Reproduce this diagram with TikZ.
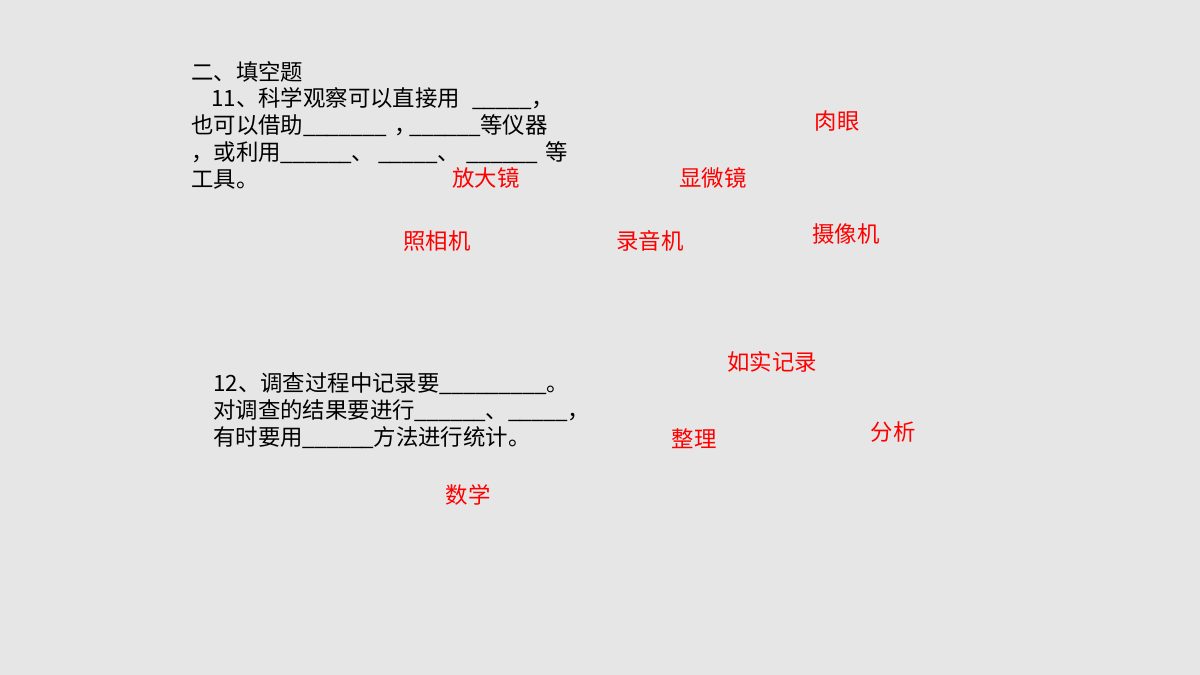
\documentclass[tikz,border=0pt]{standalone}
\usepackage{fontspec}
\setmainfont{Noto Sans CJK SC}
\definecolor{bgc}{HTML}{E6E6E6}
\definecolor{ans}{HTML}{FF0000}
\newcommand\us{\_\kern-0.7pt}
\tikzset{
  q/.style={anchor=west, inner sep=0pt, font=\fontsize{22.4}{26}\selectfont, text=black},
  a/.style={inner sep=0pt, font=\fontsize{22.4}{26}\selectfont, text=ans},
}
\begin{document}
\begin{tikzpicture}[x=1pt,y=-1pt]
\fill[bgc] (0,0) rectangle (1200,675);
\useasboundingbox (0,0) rectangle (1200,675);
% question 11
\node[q] (l1) at (191,72) {二、填空题};
\node[q] (l2) at (211,99) {11、科学观察可以直接用\hspace{12pt}\us\us\us\us\us，};
\node[q] (l3) at (191,126) {也可以借助\us\us\us\us\us\us\us\hspace{9pt}，\hspace{-8pt}\us\us\us\us\us\us 等仪器};
\node[q] (l4) at (191,153) {，或利用\us\us\us\us\us\us、\hspace{4pt}\us\us\us\us\us、\hspace{7pt}\us\us\us\us\us\us\hspace{8pt}等};
\node[q] (l5) at (191,180) {工具。};
% question 12
\node[q] (m1) at (213,384) {12、调查过程中记录要\us\us\us\us\us\us\us\us\us。};
\node[q] (m2) at (213,411) {对调查的结果要进行\us\us\us\us\us\us、\us\us\us\us\us，};
\node[q] (m3) at (213,438) {有时要用\us\us\us\us\us\us 方法进行统计。};
% answers
\node[a] (r1) at (837,121) {肉眼};
\node[a] (r2) at (486,178) {放大镜};
\node[a] (r3) at (713,178) {显微镜};
\node[a] (r4) at (437,241) {照相机};
\node[a] (r5) at (650,241) {录音机};
\node[a] (r6) at (846,234) {摄像机};
\node[a] (r7) at (772,362) {如实记录};
\node[a] (r8) at (694,439) {整理};
\node[a] (r9) at (893,432) {分析};
\node[a] (r10) at (468,495) {数学};
\end{tikzpicture}
\end{document}
